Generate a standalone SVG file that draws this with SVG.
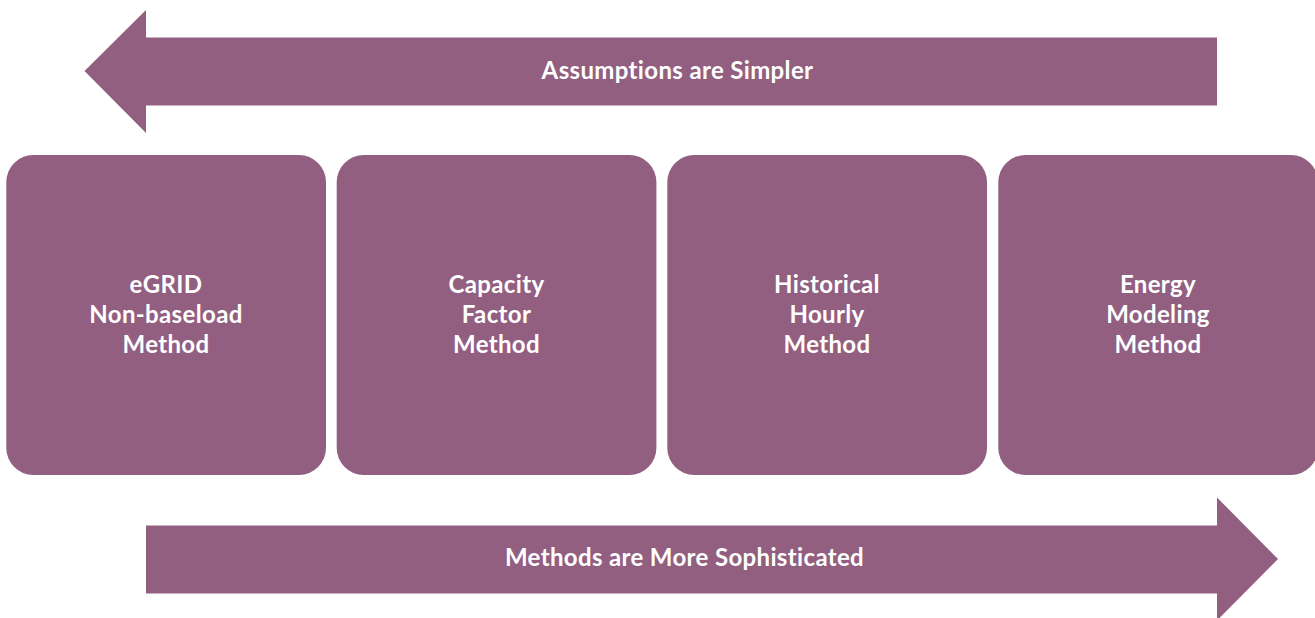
<svg xmlns="http://www.w3.org/2000/svg" width="1315" height="618" viewBox="0 0 1315 618">
  <style>
    .shape { fill: #925f80; }
    .label { fill: #ffffff; font-family: Lato, "Open Sans", "Liberation Sans", sans-serif; font-weight: bold; font-size: 24px; letter-spacing: 0.35px; font-variant-ligatures: none; text-anchor: middle; }
  </style>
  <rect width="1315" height="618" fill="#ffffff"/>

  <g id="connectors">
    <!-- left-pointing band -->
    <g id="arrow-simpler">
      <polygon class="shape" points="84.5,71 146,10 146,37.5 1217,37.5 1217,105.5 146,105.5 146,133"/>
      <text class="label" x="677.5" y="78.5">Assumptions are Simpler</text>
    </g>
    <!-- right-pointing band -->
    <g id="arrow-sophisticated">
      <polygon class="shape" points="1278,559 1217,497.5 1217,525.5 146,525.5 146,593.5 1217,593.5 1217,620.5"/>
      <text class="label" x="684.5" y="566">Methods are More Sophisticated</text>
    </g>
  </g>

  <g id="node-egrid">
    <rect class="shape" x="6.3" y="155" width="319.7" height="320" rx="27" ry="27"/>
    <text class="label" x="166" y="293">eGRID</text>
    <text class="label" x="166" y="323">Non-baseload</text>
    <text class="label" x="166" y="353">Method</text>
  </g>
  <g id="node-capacity">
    <rect class="shape" x="336.7" y="155" width="319.7" height="320" rx="27" ry="27"/>
    <text class="label" x="496.5" y="293">Capacity</text>
    <text class="label" x="496.5" y="323">Factor</text>
    <text class="label" x="496.5" y="353">Method</text>
  </g>
  <g id="node-historical">
    <rect class="shape" x="667.3" y="155" width="319.7" height="320" rx="27" ry="27"/>
    <text class="label" x="827" y="293">Historical</text>
    <text class="label" x="827" y="323">Hourly</text>
    <text class="label" x="827" y="353">Method</text>
  </g>
  <g id="node-energy">
    <rect class="shape" x="998.3" y="155" width="319.7" height="320" rx="27" ry="27"/>
    <text class="label" x="1158" y="293">Energy</text>
    <text class="label" x="1158" y="323">Modeling</text>
    <text class="label" x="1158" y="353">Method</text>
  </g>
</svg>
